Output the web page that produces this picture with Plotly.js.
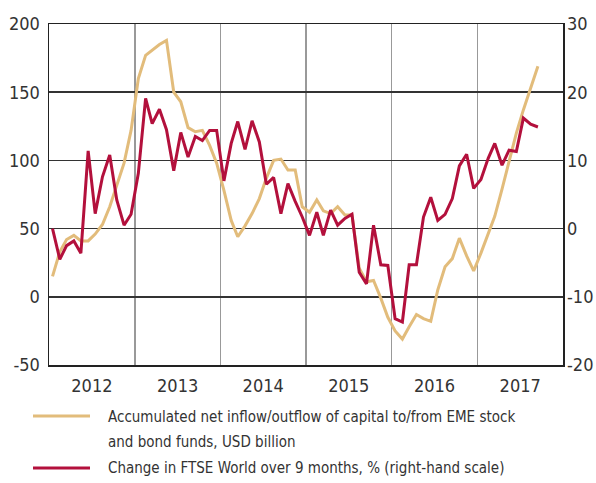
<!DOCTYPE html>
<html>
<head>
<meta charset="utf-8">
<script src="https://cdn.plot.ly/plotly-3.0.1.min.js"></script>
<style>html,body{margin:0;padding:0;background:#fff;}#chart{width:596px;height:483px;}</style>
</head>
<body>
<div id="chart"></div>
<script>
// Monthly observations (mid-month), Jan 2012 - Sep 2017
var months = [
 "2012-01-16","2012-02-16","2012-03-16","2012-04-16","2012-05-16","2012-06-16","2012-07-16","2012-08-16","2012-09-16","2012-10-16","2012-11-16","2012-12-16",
 "2013-01-16","2013-02-16","2013-03-16","2013-04-16","2013-05-16","2013-06-16","2013-07-16","2013-08-16","2013-09-16","2013-10-16","2013-11-16","2013-12-16",
 "2014-01-16","2014-02-16","2014-03-16","2014-04-16","2014-05-16","2014-06-16","2014-07-16","2014-08-16","2014-09-16","2014-10-16","2014-11-16","2014-12-16",
 "2015-01-16","2015-02-16","2015-03-16","2015-04-16","2015-05-16","2015-06-16","2015-07-16","2015-08-16","2015-09-16","2015-10-16","2015-11-16","2015-12-16",
 "2016-01-16","2016-02-16","2016-03-16","2016-04-16","2016-05-16","2016-06-16","2016-07-16","2016-08-16","2016-09-16","2016-10-16","2016-11-16","2016-12-16",
 "2017-01-16","2017-02-16","2017-03-16","2017-04-16","2017-05-16","2017-06-16","2017-07-16","2017-08-16","2017-09-16"
];

// Accumulated net inflow/outflow, USD billion (left axis)
var flows = [
 15, 33, 42, 45, 41, 41, 46, 53, 66, 81, 98, 122,
 160, 177, 181, 185, 188, 150, 143, 124, 121, 122, 111, 98,
 78, 56, 44, 52, 61, 72, 87, 100, 101, 93, 93, 66,
 62, 71, 63, 61, 66, 60, 60, 21, 11, 12, -1, -15,
 -25, -31, -22, -13, -16, -18, 5, 22, 28, 43, 30, 19,
 32, 46, 59, 79, 100, 120, 137, 153, 169
];

// Change in FTSE World over 9 months, % (right axis)
var ftse = [
 0, -4.5, -2.5, -1.8, -3.6, 11.4, 2.2, 7.6, 10.8, 4.2, 0.5, 2.1,
 8.1, 19.1, 15.4, 17.5, 14.5, 8.5, 14.1, 10.5, 13.5, 12.9, 14.4, 14.4,
 7.0, 12.5, 15.7, 11.6, 15.8, 12.7, 6.5, 7.5, 2.2, 6.6, 4.0, 1.7,
 -1.0, 2.4, -1.0, 2.7, 0.5, 1.5, 2.1, -6.4, -8.1, 0.5, -5.3, -5.4,
 -13.2, -13.7, -5.3, -5.3, 1.7, 4.6, 1.2, 2.1, 4.4, 9.2, 10.9, 5.9,
 7.2, 10.3, 12.5, 9.3, 11.5, 11.3, 16.2, 15.3, 14.9
];

var leftTicks = [-50, 0, 50, 100, 150, 200];
var rightTicks = [-20, -10, 0, 10, 20, 30];

var legendFlowsLines = ["Accumulated net inflow/outflow of capital to/from EME stock", "and bond funds, USD billion"];
var legendFtseLines = ["Change in FTSE World over 9 months, % (right-hand scale)"];

var COLOR_FLOWS = "#E2BC7B";
var COLOR_FTSE = "#B3103C";
var FONT = "'Liberation Sans Narrow', 'DejaVu Sans Condensed', 'Arial Narrow', sans-serif";

// plot box in pixels (for placing the hand-made legend below the axes)
var W = 596, H = 483, ML = 49, MR = 33, MT = 24, MB = 118;
var PW = W - ML - MR, PH = H - MT - MB;
function px(x) { return (x - ML) / PW; }
function py(y) { return (H - MB - y) / PH; }

var traces = [
  {x: months, y: flows, type: "scatter", mode: "lines", name: legendFlowsLines.join(" "),
   line: {color: COLOR_FLOWS, width: 3}, yaxis: "y"},
  {x: months, y: ftse, type: "scatter", mode: "lines", name: legendFtseLines.join(" "),
   line: {color: COLOR_FTSE, width: 3}, yaxis: "y2"}
];

var legendFont = {family: FONT, size: 15, color: "#333"};
var annotations = [
  {xref: "paper", yref: "paper", x: px(106), y: py(417), xanchor: "left", yanchor: "middle",
   text: legendFlowsLines[0], showarrow: false, font: legendFont},
  {xref: "paper", yref: "paper", x: px(106), y: py(442), xanchor: "left", yanchor: "middle",
   text: legendFlowsLines[1], showarrow: false, font: legendFont},
  {xref: "paper", yref: "paper", x: px(106), y: py(468), xanchor: "left", yanchor: "middle",
   text: legendFtseLines[0], showarrow: false, font: legendFont}
];
var shapes = [
  {type: "line", xref: "paper", yref: "paper", x0: px(33), x1: px(90), y0: py(416), y1: py(416),
   line: {color: COLOR_FLOWS, width: 3}},
  {type: "line", xref: "paper", yref: "paper", x0: px(33), x1: px(90), y0: py(468), y1: py(468),
   line: {color: COLOR_FTSE, width: 3}}
];

var layout = {
  width: W, height: H,
  margin: {l: ML, r: MR, t: MT, b: MB, autoexpand: false},
  paper_bgcolor: "#fff", plot_bgcolor: "#fff",
  font: {family: FONT, size: 18, color: "#333"},
  showlegend: false,
  annotations: annotations,
  shapes: shapes,
  xaxis: {type: "date", range: ["2012-01-01", "2018-01-01"],
          dtick: "M12", tick0: "2012-01-01", tickformat: "%Y", ticklabelmode: "period",
          showgrid: true, gridcolor: "#999999", gridwidth: 1.5,
          showline: true, linecolor: "#222", linewidth: 1.5, mirror: true,
          ticks: "", zeroline: false, ticklabelstandoff: 4},
  yaxis: {range: [-50, 200], tickvals: leftTicks, ticktext: leftTicks.map(String),
          showgrid: true, gridcolor: "#333", gridwidth: 1.5, zeroline: false,
          showline: true, linecolor: "#222", linewidth: 1.5, mirror: true,
          ticks: "", ticklabelstandoff: 4},
  yaxis2: {range: [-20, 30], tickvals: rightTicks, ticktext: rightTicks.map(String),
           overlaying: "y", side: "right", showgrid: false, zeroline: false,
           ticks: "", ticklabelstandoff: 3}
};

Plotly.newPlot("chart", traces, layout, {displayModeBar: false, staticPlot: true});
</script>
</body>
</html>
